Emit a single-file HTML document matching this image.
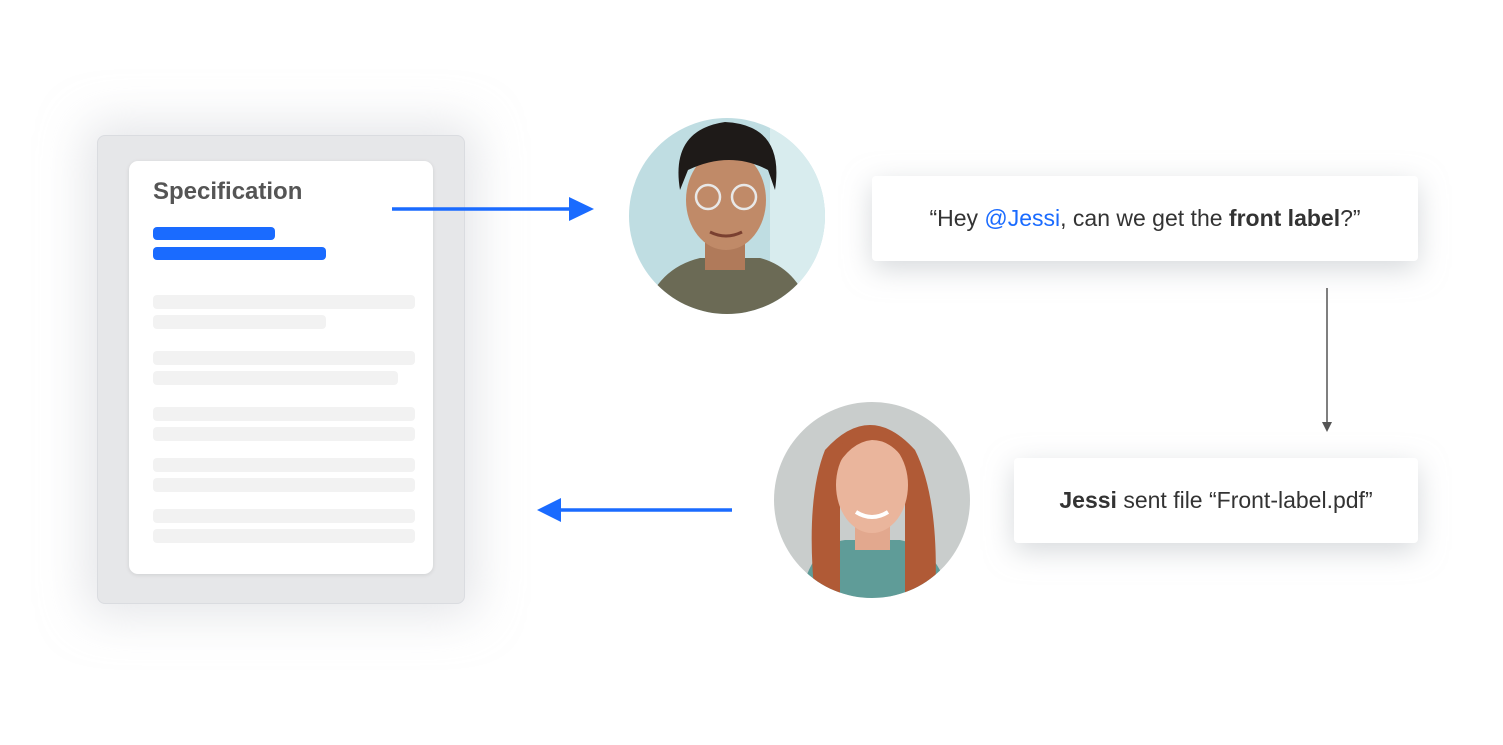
<!DOCTYPE html>
<html><head><meta charset="utf-8"><style>
body{margin:0;width:1503px;height:745px;background:#fff;position:relative;overflow:hidden;font-family:"Liberation Sans",sans-serif}
.abs{position:absolute}
.panel{left:97px;top:135px;width:366px;height:467px;background:#e6e7e9;border:1px solid #dadce0;border-radius:8px;box-shadow:0 0 45px 12px rgba(205,208,213,.5)}
.card{left:129px;top:161px;width:304px;height:413px;background:#fff;border-radius:9px;box-shadow:0 1px 4px rgba(0,0,0,.1)}
.bar{position:absolute;height:14px;border-radius:4px;background:#f2f2f2;left:153px}
.blue{background:#1a6bff;height:13px}
.box{background:#fff;border-radius:4px;box-shadow:0 8px 28px rgba(180,185,192,.55);display:flex;align-items:center;justify-content:center;font-size:23px;color:#333}
</style></head><body>
<div class="abs panel"></div>
<div class="abs card"></div>
<div class="abs" style="left:153px;top:178px;font-size:24px;font-weight:bold;color:#555">Specification</div>
<div class="bar blue" style="top:227px;width:122px"></div>
<div class="bar blue" style="top:247px;width:173px"></div>
<div class="bar" style="top:295px;width:262px"></div>
<div class="bar" style="top:315px;width:173px"></div>
<div class="bar" style="top:351px;width:262px"></div>
<div class="bar" style="top:371px;width:245px"></div>
<div class="bar" style="top:407px;width:262px"></div>
<div class="bar" style="top:427px;width:262px"></div>
<div class="bar" style="top:458px;width:262px"></div>
<div class="bar" style="top:478px;width:262px"></div>
<div class="bar" style="top:509px;width:262px"></div>
<div class="bar" style="top:529px;width:262px"></div>

<div class="abs box" style="left:872px;top:176px;width:546px;height:85px">“Hey&nbsp;<span style="color:#1a6bff">@Jessi</span>, can we get the&nbsp;<b>front label</b>?”</div>
<div class="abs box" style="left:1014px;top:458px;width:404px;height:85px"><b>Jessi</b>&nbsp;sent file “Front-label.pdf”</div>

<svg class="abs" style="left:0;top:0" width="1503" height="745">
<defs>
<clipPath id="c1"><circle cx="727" cy="216" r="98"/></clipPath>
<clipPath id="c2"><circle cx="872" cy="500" r="98"/></clipPath>
</defs>
<line x1="392" y1="209" x2="572" y2="209" stroke="#1a6bff" stroke-width="3.5"/>
<polygon points="569,197 594,209 569,221" fill="#1a6bff"/>
<line x1="558" y1="510" x2="732" y2="510" stroke="#1a6bff" stroke-width="3.5"/>
<polygon points="561,498 537,510 561,522" fill="#1a6bff"/>
<line x1="1327" y1="288" x2="1327" y2="424" stroke="#555" stroke-width="1.5"/>
<polygon points="1322,422 1332,422 1327,432" fill="#555"/>

<g clip-path="url(#c1)">
<rect x="620" y="110" width="220" height="220" fill="#bfdde2"/>
<rect x="770" y="110" width="70" height="220" fill="#d8ecee"/>
<path d="M640 330 Q650 270 700 258 L760 258 Q805 270 815 330Z" fill="#6b6a55"/>
<rect x="705" y="235" width="40" height="35" fill="#b07a5a"/>
<ellipse cx="726" cy="200" rx="40" ry="50" fill="#c08a68"/>
<path d="M680 190 Q670 130 725 122 Q785 125 775 190 L768 170 Q730 150 688 170Z" fill="#1e1a18"/>
<circle cx="708" cy="197" r="12" fill="none" stroke="#e8e8e8" stroke-width="2.5"/>
<circle cx="744" cy="197" r="12" fill="none" stroke="#e8e8e8" stroke-width="2.5"/>
<path d="M710 232 Q726 240 742 232" stroke="#7a4030" stroke-width="3" fill="none"/>
</g>

<g clip-path="url(#c2)">
<rect x="770" y="400" width="210" height="210" fill="#c9cdcc"/>
<path d="M800 600 Q810 545 845 540 L900 540 Q940 548 950 600Z" fill="#5f9c98"/>
<path d="M815 600 Q805 500 825 450 Q870 400 915 450 Q940 500 935 600 L905 600 L905 480 L840 480 L840 600Z" fill="#b05a36"/>
<rect x="855" y="520" width="35" height="30" fill="#e2a88e"/>
<ellipse cx="872" cy="485" rx="36" ry="48" fill="#eab59c"/>
<path d="M835 470 Q840 425 872 428 Q905 428 910 470 Q895 440 872 440 Q850 442 835 470Z" fill="#b05a36"/>
<path d="M856 512 Q872 522 888 512" stroke="#fff" stroke-width="4" fill="none"/>
</g>
</svg>
</body></html>
